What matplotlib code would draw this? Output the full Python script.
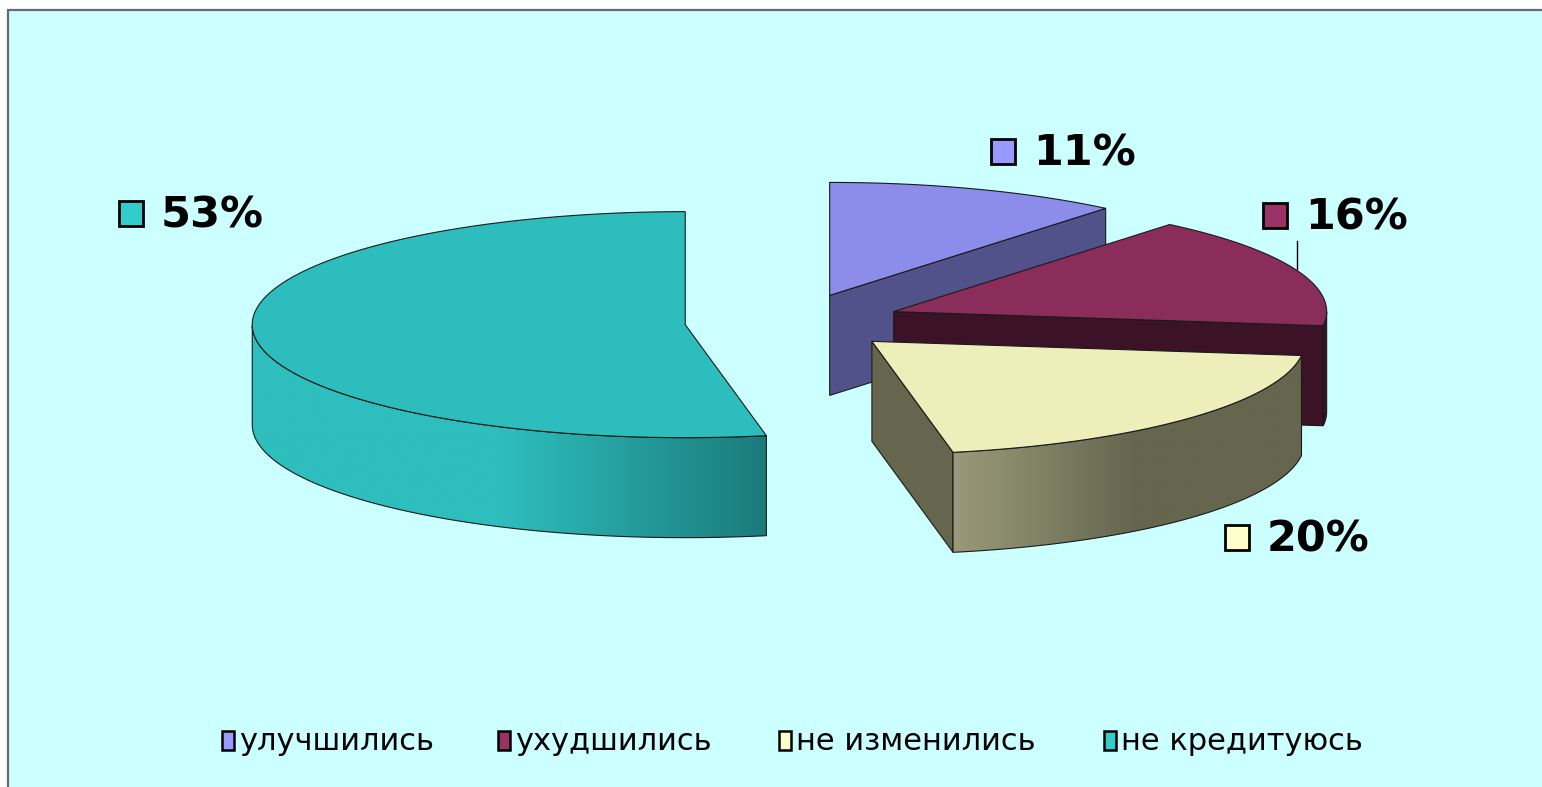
import numpy as np
import matplotlib
matplotlib.use("Agg")
from matplotlib import pyplot as plt
from matplotlib.patches import Polygon, Rectangle
import matplotlib.colors as mcolors

# data
labels = ["улучшились", "ухудшились", "не изменились", "не кредитуюсь"]
shares = [11, 16, 20, 53]
pct_text = ["11%", "16%", "20%", "53%"]

# colours
base_colors = ["#9999FF", "#993366", "#FFFFCC", "#33CCCC"]
top_colors = ["#8c8ceb", "#8b2d5b", "#eeeebb", "#2dbdbd"]
side_light = ["#52528a", "#3b1226", "#9a9a7a", "#2ebebe"]
side_dark = ["#52528a", "#3b1226", "#66664f", "#1b7b7b"]
grad_range = [(0, 1), (0, 1), (0.0, 0.52), (0.48, 1.0)]

# pie geometry (pixel space)
W, H = 1542, 787
cx, cy = 793, 322
rx, ry = 433, 113
depth = 100
explode = 0.25
start = 90.0
edge = "#1a1a1a"
elw = 0.8

fig = plt.figure(figsize=(W / 100, H / 100), dpi=100)
fig.patch.set_facecolor("white")
ax = fig.add_axes([0, 0, 1, 1])
ax.set_xlim(0, W)
ax.set_ylim(H, 0)
ax.axis("off")

ax.add_patch(Rectangle((8, 10), W + 10, H + 10, facecolor="#CCFFFF",
                       edgecolor="#6b6b6b", lw=1.6, zorder=0))


def rim(x0, y0, a_deg, dz=0):
    a = np.radians(a_deg)
    return np.column_stack([x0 + rx * np.cos(a), y0 - ry * np.sin(a) + dz])


def grad_fill(poly, c1, c2, t0, t1, z):
    patch = Polygon(poly, closed=True, facecolor="none", edgecolor=edge, lw=elw, zorder=z + 0.1)
    ax.add_patch(patch)
    xmin, xmax = poly[:, 0].min(), poly[:, 0].max()
    ymin, ymax = poly[:, 1].min(), poly[:, 1].max()
    t = np.linspace(0, 1, 400)
    t = np.clip((t - t0) / max(t1 - t0, 1e-6), 0, 1)
    a = np.array(mcolors.to_rgb(c1))
    b = np.array(mcolors.to_rgb(c2))
    img = a[None, :] * (1 - t[:, None]) + b[None, :] * t[:, None]
    im = ax.imshow(img[None, :, :], extent=[xmin, xmax, ymax, ymin], aspect="auto",
                   zorder=z, interpolation="bilinear")
    im.set_clip_path(patch)


# slice angles, clockwise from 90
spans = []
hi = start
for s in shares:
    lo = hi - s * 3.6
    spans.append((lo, hi))
    hi = lo

for k, i in enumerate(range(len(shares))):
    lo, hi = spans[i]
    mid = np.radians((lo + hi) / 2)
    x0 = cx + explode * rx * np.cos(mid)
    y0 = cy - explode * ry * np.sin(mid)
    z = 2 + k * 2
    angs = np.linspace(lo, hi, 300)

    # radial faces that look toward the viewer
    for a_end, sign in ((lo, 1), (hi, -1)):
        if sign * np.cos(np.radians(a_end)) > 1e-6:
            p = rim(x0, y0, [a_end])[0]
            face = np.array([[x0, y0], p, [p[0], p[1] + depth], [x0, y0 + depth]])
            ax.add_patch(Polygon(face, closed=True, facecolor=side_dark[i],
                                 edgecolor=edge, lw=elw, zorder=z))

    # outer side (front half only)
    front = angs[np.sin(np.radians(angs)) < 0]
    if len(front) > 1:
        top = rim(x0, y0, front)
        bot = rim(x0, y0, front[::-1], depth)
        side = np.vstack([top, bot])
        t0, t1 = grad_range[i]
        grad_fill(side, side_light[i], side_dark[i], t0, t1, z)

    # top face
    tp = np.vstack([[x0, y0], rim(x0, y0, angs)])
    ax.add_patch(Polygon(tp, closed=True, facecolor=top_colors[i], edgecolor=edge,
                         lw=elw, zorder=z + 0.5))

# percentage labels
label_xy = [(1003, 151), (1275, 215), (1237, 537), (131, 213)]
for i in range(len(shares)):
    mx, my = label_xy[i]
    ax.add_patch(Rectangle((mx - 12, my - 12), 24, 25, facecolor=base_colors[i],
                           edgecolor="black", lw=2, zorder=20))
    ax.text(mx + 30, my + 2, pct_text[i], fontsize=31, fontweight="bold",
            family="DejaVu Sans", ha="left", va="center", color="black", zorder=20)
ax.plot([1297, 1297], [241, 269], color="black", lw=1, zorder=20)

# legend
leg_x = [228, 504, 785, 1110]
leg_y = 741
for i in range(len(labels)):
    ax.add_patch(Rectangle((leg_x[i] - 6, leg_y - 10), 12, 19, facecolor=base_colors[i],
                           edgecolor="black", lw=1.8, zorder=20))
    ax.text(leg_x[i] + 11, leg_y + 1, labels[i], fontsize=22, family="DejaVu Sans",
            ha="left", va="center", color="black", zorder=20)

fig.savefig("out.png", dpi=100, facecolor=fig.get_facecolor())
